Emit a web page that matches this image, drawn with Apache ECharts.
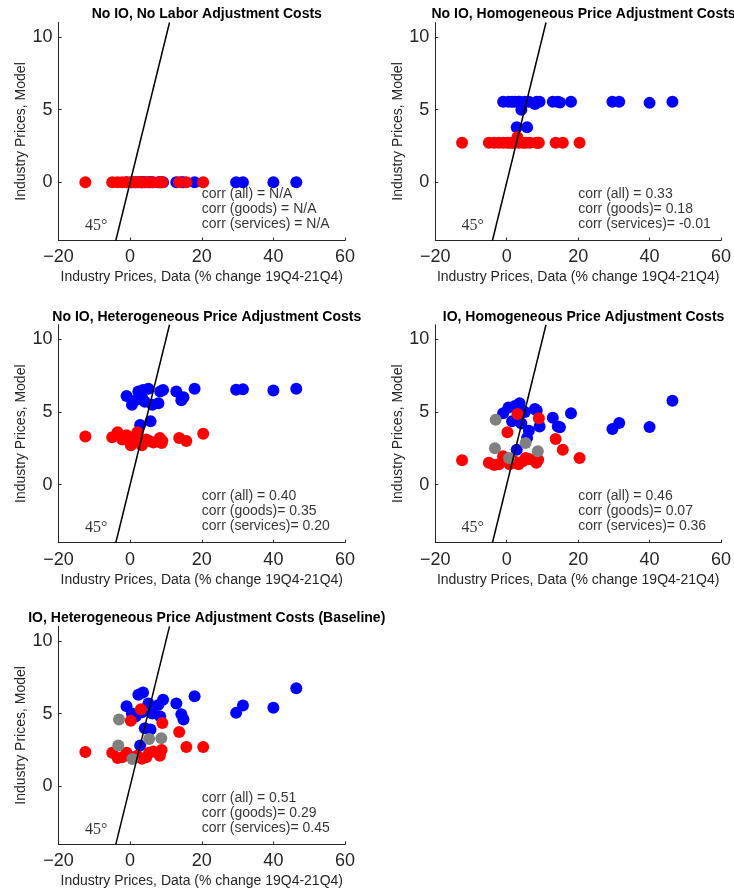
<!DOCTYPE html>
<html>
<head>
<meta charset="utf-8">
<script src="https://cdn.jsdelivr.net/npm/echarts@6/dist/echarts.min.js"></script>
<style>
html,body{margin:0;padding:0;background:#fff;}
#chart{width:734px;height:892px;}
</style>
</head>
<body>
<div id="chart"></div>
<script>
// ---------- data ----------
const panelTitles = [
  'No IO, No Labor Adjustment Costs',
  'No IO, Homogeneous Price Adjustment Costs',
  'No IO, Heterogeneous Price Adjustment Costs',
  'IO, Homogeneous Price Adjustment Costs',
  'IO, Heterogeneous Price Adjustment Costs (Baseline)'
];
const xTickValues = [-20, 0, 20, 40, 60];
const yTickValues = [0, 5, 10];
const xName = 'Industry Prices, Data (% change 19Q4-21Q4)';
const yName = 'Industry Prices, Model';

// goods (blue): x = data, y = model per panel
const goodsX  = [-1.0, 0.5, 1.5, 2.3, 2.8, 3.6, 4.1, 5.1, 5.7, 6.2, 7.9, 8.4, 9.2, 12.9, 14.3, 14.9, 18.0, 29.6, 31.5, 40.0, 46.4, 3.3];
const goodsP1 = [0, 0, 0, 0, 0, 0, 0, 0, 0, 0, 0, 0, 0, 0, 0, 0, 0, 0, 0, 0, 0, 0];
const goodsP2 = [5.55, 5.55, 5.55, 5.55, 3.8, 5.55, 5.0, 5.55, 3.8, 5.55, 5.4, 5.55, 5.55, 5.55, 5.55, 5.5, 5.55, 5.55, 5.55, 5.47, 5.55, 5.55];
const goodsP3 = [6.1, 5.5, 5.8, 6.4, 4.1, 6.5, 5.7, 6.6, 4.35, 5.5, 5.6, 6.4, 6.5, 6.4, 5.8, 6.0, 6.6, 6.52, 6.56, 6.47, 6.6, 6.0];
const goodsP4 = [4.9, 5.3, 4.35, 5.4, 2.4, 5.6, 4.2, 5.0, 3.2, 3.7, 5.2, 5.1, 4.0, 4.6, 4.0, 3.95, 4.9, 3.82, 4.23, 3.96, 5.76, 4.6];
const goodsP5 = [5.5, 5.0, 4.8, 6.3, 2.8, 6.45, 4.0, 5.7, 3.9, 5.0, 5.6, 4.8, 5.95, 5.7, 4.95, 4.6, 6.2, 5.05, 5.55, 5.4, 6.75, 5.1];

// services (red)
const servX  = [-12.5, -5.0, -3.5, -2.2, -1.0, 0.2, 0.8, 1.5, 2.0, 3.0, 3.3, 4.5, 5.3, 6.5, 8.3, 8.8, 9.0, 13.7, 15.7, 20.4];
const servP1 = [0, 0, 0, 0, 0, 0, 0, 0, 0, 0, 0, 0, 0, 0, 0, 0, 0, 0, 0, 0];
const servP2 = [2.72, 2.72, 2.72, 2.72, 2.72, 2.72, 2.72, 2.72, 2.72, 3.1, 2.72, 2.72, 2.72, 2.72, 2.72, 2.72, 2.72, 2.72, 2.72, 2.72];
const servP3 = [3.3, 3.25, 3.6, 3.1, 3.4, 2.7, 3.2, 3.0, 3.6, 2.9, 2.7, 3.1, 3.0, 2.9, 3.2, 2.86, 3.0, 3.2, 3.0, 3.5];
const servP4 = [1.67, 1.5, 1.35, 1.4, 1.95, 3.6, 1.4, 1.5, 1.6, 4.85, 1.4, 1.6, 1.83, 1.75, 1.5, 1.7, 4.57, 3.13, 2.4, 1.83];
const servP5 = [2.35, 2.3, 1.95, 2.0, 2.3, 4.5, 2.0, 2.0, 2.1, 5.3, 1.9, 2.0, 2.3, 2.4, 2.1, 2.5, 4.35, 3.73, 2.7, 2.7];

// other (gray), only in IO panels
const otherX  = [-3.1, -3.3, 0.65, 5.3, 8.7];
const otherP4 = [4.46, 2.5, 1.83, 2.86, 2.29];
const otherP5 = [4.6, 2.8, 1.88, 3.25, 3.3];

const corrTexts = [
  ['corr (all) = N/A', 'corr (goods) = N/A', 'corr (services) = N/A'],
  ['corr (all) = 0.33', 'corr (goods)= 0.18', 'corr (services)= -0.01'],
  ['corr (all) = 0.40', 'corr (goods)= 0.35', 'corr (services)= 0.20'],
  ['corr (all) = 0.46', 'corr (goods)= 0.07', 'corr (services)= 0.36'],
  ['corr (all) = 0.51', 'corr (goods)= 0.29', 'corr (services)= 0.45']
];
const corrPos = [[20, -0.8], [20, -1.85], [20, -2.85]];
const degLabel = '45°';
const degPos = [-9.5, -3.0];
const xRange = [-20, 60];
const yRange = [-4, 11];

// ---------- layout ----------
const layout = [
  {left: 58.5, top: 22.5},
  {left: 435.3, top: 22.5},
  {left: 58.5, top: 324.7},
  {left: 435.3, top: 324.7},
  {left: 58.5, top: 626.4}
];
const W = 286.5, H = 218;

const goodsY = [goodsP1, goodsP2, goodsP3, goodsP4, goodsP5];
const servY = [servP1, servP2, servP3, servP4, servP5];
const otherY = [null, null, null, otherP4, otherP5];

const FONT = 'Liberation Sans, Arial, Helvetica, sans-serif';
const AX = '#262626';

const option = {
  animation: false,
  backgroundColor: '#fff',
  title: [], grid: [], xAxis: [], yAxis: [], series: []
};

layout.forEach((L, i) => {
  option.title.push({
    text: panelTitles[i],
    left: L.left + W / 2,
    top: L.top - 20,
    textAlign: 'center',
    textStyle: {fontFamily: FONT, fontWeight: 'bold', fontSize: 14, color: '#000'}
  });
  option.grid.push({left: L.left, top: L.top, width: W, height: H, containLabel: false});
  option.xAxis.push({
    type: 'value', gridIndex: i, min: xRange[0], max: xRange[1], interval: 20,
    name: xName, nameLocation: 'middle', nameGap: 30,
    nameTextStyle: {fontFamily: FONT, fontSize: 14, color: AX},
    axisLine: {show: true, onZero: false, lineStyle: {color: AX, width: 1}},
    axisTick: {show: true, inside: true, length: 3, lineStyle: {color: AX}},
    axisLabel: {fontFamily: FONT, fontSize: 18, color: AX, margin: 8,
      formatter: v => String(v).replace('-', '\u2212')},
    splitLine: {show: false}
  });
  option.yAxis.push({
    type: 'value', gridIndex: i, min: yRange[0], max: yRange[1],
    name: yName, nameLocation: 'middle', nameGap: 29, nameRotate: 90,
    nameTextStyle: {fontFamily: FONT, fontSize: 14, color: AX},
    axisLine: {show: true, onZero: false, lineStyle: {color: AX, width: 1}},
    axisTick: {show: true, inside: true, length: 3, lineStyle: {color: AX}, customValues: yTickValues},
    axisLabel: {fontFamily: FONT, fontSize: 18, color: AX, margin: 6, customValues: yTickValues},
    splitLine: {show: false}
  });
  const mk = (xs, ys) => xs.map((x, k) => [x, ys[k]]);
  option.series.push({
    type: 'scatter', xAxisIndex: i, yAxisIndex: i, symbolSize: 12,
    itemStyle: {color: '#0000ff', opacity: 1}, data: mk(goodsX, goodsY[i]), z: 2
  });
  option.series.push({
    type: 'scatter', xAxisIndex: i, yAxisIndex: i, symbolSize: 12,
    itemStyle: {color: '#ff0000', opacity: 1}, data: mk(servX, servY[i]), z: 3
  });
  if (otherY[i]) {
    option.series.push({
      type: 'scatter', xAxisIndex: i, yAxisIndex: i, symbolSize: 12,
      itemStyle: {color: '#808080', opacity: 1}, data: mk(otherX, otherY[i]), z: 4
    });
  }
  option.series.push({
    type: 'line', xAxisIndex: i, yAxisIndex: i, symbol: 'none',
    lineStyle: {color: '#000', width: 1.5}, data: [[yRange[0], yRange[0]], [yRange[1], yRange[1]]], z: 5
  });
  option.series.push({
    type: 'scatter', xAxisIndex: i, yAxisIndex: i, symbolSize: 0, z: 6,
    data: corrPos.map((p, k) => [p[0], p[1], corrTexts[i][k]]),
    label: {show: true, position: [0, 0], align: 'left', verticalAlign: 'middle',
      formatter: p => p.data[2], fontFamily: FONT, fontSize: 14, color: '#000'}
  });
  option.series.push({
    type: 'scatter', xAxisIndex: i, yAxisIndex: i, symbolSize: 0, z: 6,
    data: [[degPos[0], degPos[1], degLabel]],
    label: {show: true, position: [0, 0], align: 'center', verticalAlign: 'middle',
      formatter: p => p.data[2], fontFamily: 'Liberation Serif, DejaVu Serif, serif', fontSize: 16, color: '#000'}
  });
});

const chart = echarts.init(document.getElementById('chart'), null, {renderer: 'canvas'});
chart.setOption(option);
</script>
</body>
</html>
